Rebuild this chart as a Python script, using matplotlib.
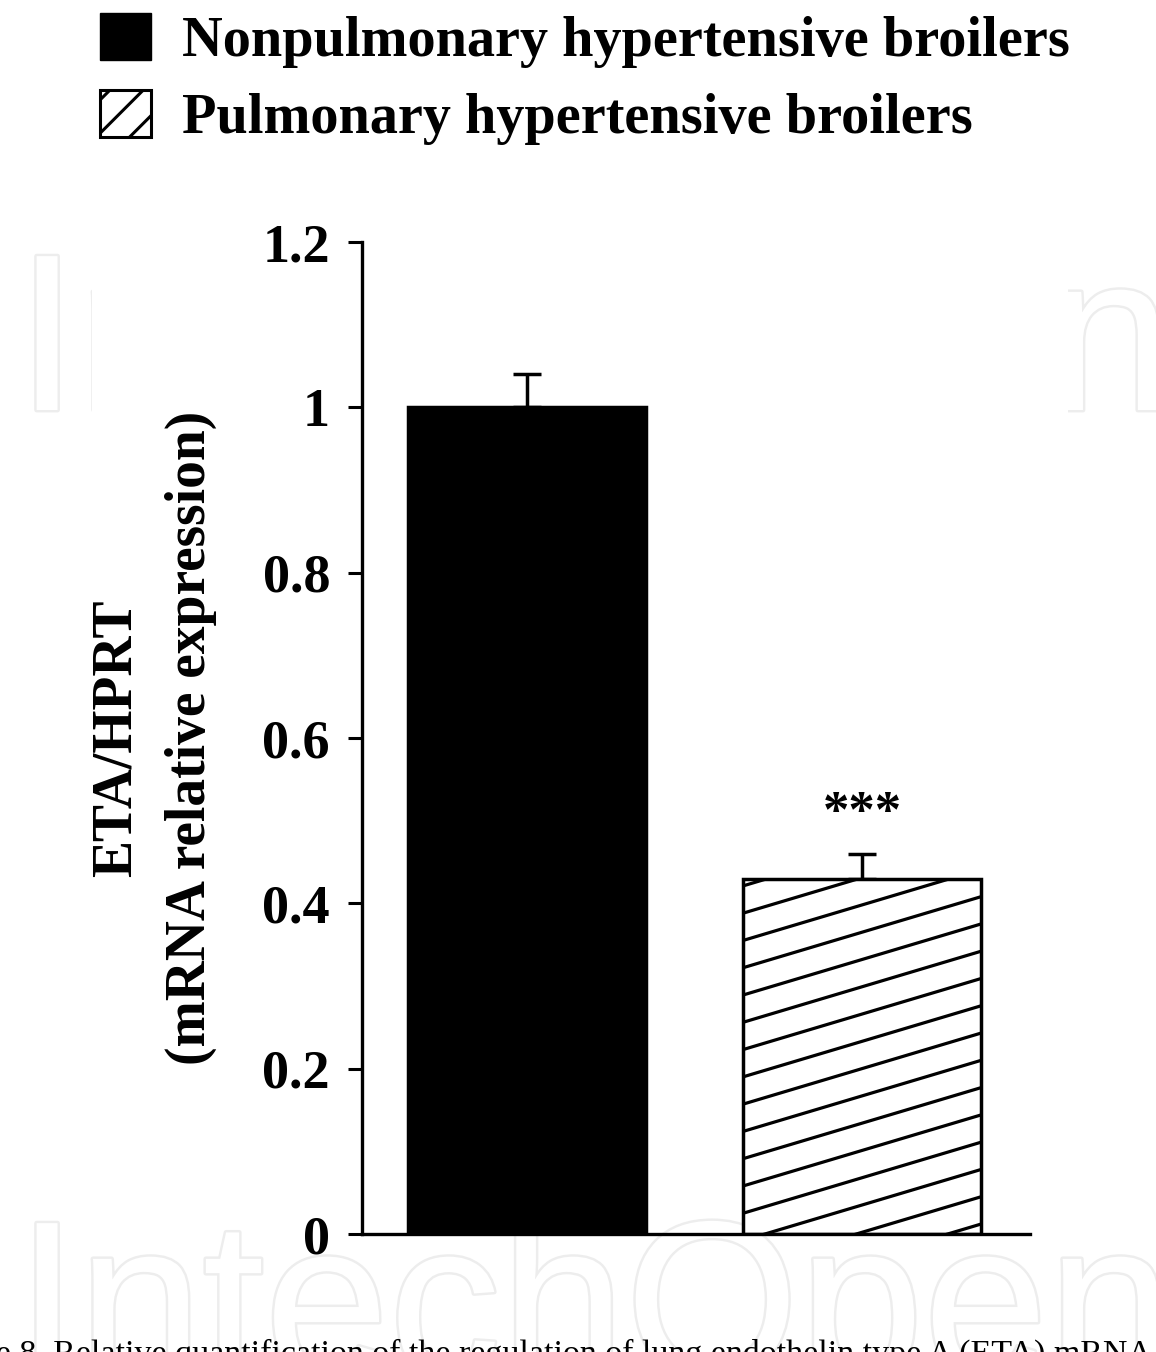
import matplotlib
matplotlib.use('Agg')
import matplotlib.pyplot as plt
import matplotlib.patheffects as pe
from matplotlib.patches import Patch, Rectangle

# data
groups = ['Nonpulmonary hypertensive broilers', 'Pulmonary hypertensive broilers']
means = [1.0, 0.43]
errors = [0.04, 0.03]
yticks = [0, 0.2, 0.4, 0.6, 0.8, 1.0, 1.2]
ytick_labels = ['0', '0.2', '0.4', '0.6', '0.8', '1', '1.2']
ylabel = 'ETA/HPRT\n(mRNA relative expression)'
caption = ('Figure 8. Relative quantification of the regulation of lung '
           'endothelin type A (ETA) mRNA')

plt.rcParams['font.family'] = 'Liberation Serif'
plt.rcParams['font.weight'] = 'bold'
plt.rcParams['hatch.linewidth'] = 2.2

W, H = 1156, 1352
fig = plt.figure(figsize=(W / 100, H / 100), dpi=100)

# faint publisher watermark behind the chart
wm = dict(fontsize=161, color='white', family='Liberation Sans', weight='normal',
          zorder=-3, path_effects=[pe.Stroke(linewidth=3.5, foreground='#ededed'),
                                   pe.Normal()])
fig.text(16 / W, 1 - 410 / H, 'IntechOpen', **wm)
fig.text(16 / W, 1 - 1377 / H, 'IntechOpen', **wm)
fig.add_artist(Rectangle((92 / W, 1 - 470 / H), 976 / W, 240 / H,
                         transform=fig.transFigure, facecolor='white',
                         edgecolor='none', zorder=-2))

ax = fig.add_axes([362 / W, 1 - 1234 / H, 668 / W, 992 / H])
ax.patch.set_alpha(0)

x = [0, 1]
bars = ax.bar(x, means, width=0.71, color=['black', 'white'],
              edgecolor='black', linewidth=2.5, zorder=2)
ax.errorbar(x, means, yerr=[[0, 0], errors], fmt='none', ecolor='black',
            elinewidth=2.5, capsize=10, capthick=2.5, zorder=1)

# shallow diagonal hatching, clipped to the second bar
hb = bars[1]
x0, x1 = hb.get_x(), hb.get_x() + hb.get_width()
slope, step = 0.121, 0.033
k = -slope * (x1 - x0) + 0.012
while k < means[1]:
    ln, = ax.plot([x0, x1], [k, k + slope * (x1 - x0)], color='black',
                  lw=2.3, zorder=2.5, solid_capstyle='butt')
    ln.set_clip_path(hb)
    k += step

ax.text(x[1], means[1] + errors[1] + 0.032, '***', ha='center', va='baseline',
        fontsize=38, fontweight='bold')

ax.set_xlim(-0.4925, 1.5015)
ax.set_ylim(0, 1.2)
ax.set_xticks([])
ax.set_yticks(yticks)
ax.set_yticklabels(ytick_labels)
ax.tick_params(axis='y', length=10, width=2.2, labelsize=39, pad=13)
for s in ['top', 'right']:
    ax.spines[s].set_visible(False)
for s in ['left', 'bottom']:
    ax.spines[s].set_linewidth(2.4)
ax.set_ylabel(ylabel, fontsize=40, fontweight='bold', linespacing=1.55,
              labelpad=33)

handles = [Patch(facecolor='black', edgecolor='black'),
           Patch(facecolor='white', edgecolor='black', linewidth=2.2, hatch='/')]
fig.legend(handles, groups, loc='upper left', bbox_to_anchor=(100 / W, 1 - 13 / H),
           frameon=False, fontsize=40.5, handlelength=0.9, handleheight=0.9,
           handletextpad=0.55, labelspacing=0.4, borderpad=0, borderaxespad=0)

fig.text(1152 / W, 1 - 1363 / H, caption, ha='right', va='baseline',
         fontsize=24.5, fontweight='normal')

fig.savefig('out.png', dpi=100)
